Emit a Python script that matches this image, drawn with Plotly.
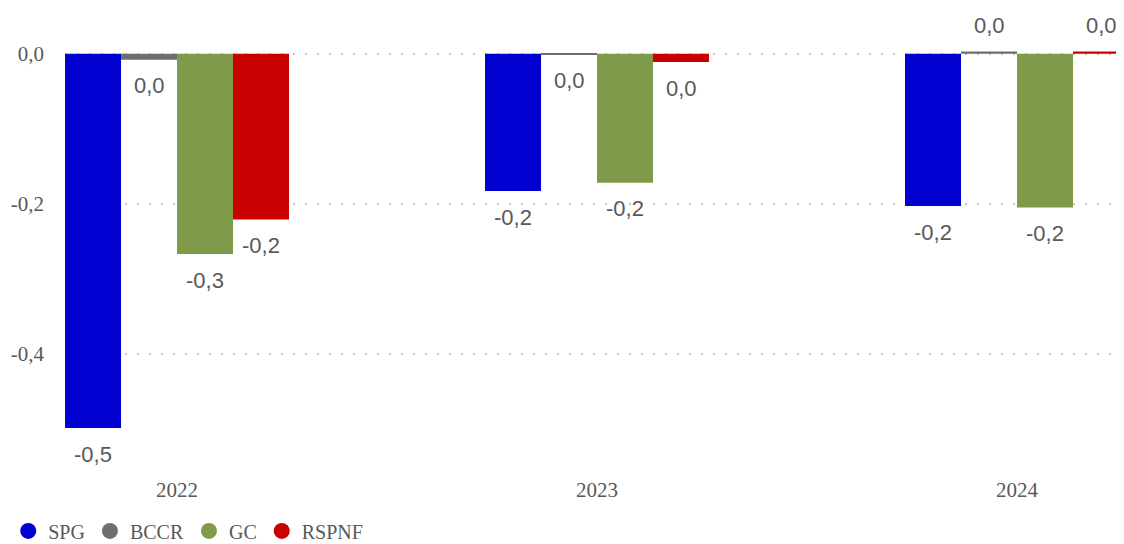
import plotly.graph_objects as go

years = ["2022", "2023", "2024"]
series_names = ["SPG", "BCCR", "GC", "RSPNF"]
spg = [-0.499, -0.183, -0.203]
bccr = [-0.008, -0.001, 0.003]
gc = [-0.267, -0.172, -0.205]
rspnf = [-0.221, -0.011, 0.003]
colors = ["#0000D0", "#6E6E6E", "#7F9A48", "#C80000"]
y_ticks = [0.0, -0.2, -0.4]
y_tick_labels = ["0,0", "-0,2", "-0,4"]

SERIF = "Liberation Serif, Times New Roman, serif"
SANS = "Liberation Sans, Arial, sans-serif"
GREY = "#595959"


def fmt(v):
    r = round(v, 1)
    if r == 0:
        r = 0.0
    return f"{r:.1f}".replace(".", ",")


BARGAP = 0.4667
bar_w = (1 - BARGAP) / len(series_names)

fig = go.Figure()
annotations = []
for k, (name, vals, col) in enumerate(zip(series_names, [spg, bccr, gc, rspnf], colors)):
    fig.add_trace(go.Bar(
        x=years, y=vals, name=name, marker_color=col, marker_line_width=0,
        showlegend=False,
    ))
    fig.add_trace(go.Scatter(
        x=[None], y=[None], mode="markers", name=name,
        marker=dict(symbol="circle", size=21, color=col), showlegend=True,
    ))
    off = (k - (len(series_names) - 1) / 2) * bar_w
    for i, v in enumerate(vals):
        annotations.append(dict(
            x=i + off, y=v, xref="x", yref="y", text=fmt(v), showarrow=False,
            yanchor="middle", xanchor="center", yshift=26 if v > 0 else -26,
            font=dict(family=SANS, size=22, color=GREY),
        ))

fig.update_layout(
    width=1124, height=560,
    margin=dict(l=57, r=0, t=12, b=98),
    plot_bgcolor="white", paper_bgcolor="white",
    barmode="group", bargap=BARGAP, bargroupgap=0,
    separators=",.",
    annotations=annotations,
    legend=dict(orientation="h", x=-0.0532, xanchor="left", y=-0.092, yanchor="top",
                font=dict(family=SERIF, size=20, color=GREY),
                itemwidth=30, tracegroupgap=0, bgcolor="rgba(0,0,0,0)"),
    xaxis=dict(range=[-0.2667, 2.2738], showgrid=False, zeroline=False, showline=False,
               tickfont=dict(family=SERIF, size=21, color=GREY),
               ticks="", ticklabelstandoff=5),
    yaxis=dict(range=[-0.555, 0.045], tickvals=y_ticks, ticktext=y_tick_labels,
               showgrid=True, gridcolor="#C4C4C4", griddash="2px,10px", gridwidth=2,
               zeroline=False, showline=False, ticks="",
               tickfont=dict(family=SERIF, size=21, color=GREY),
               ticklabelstandoff=20),
)

fig.write_html("out.html")
